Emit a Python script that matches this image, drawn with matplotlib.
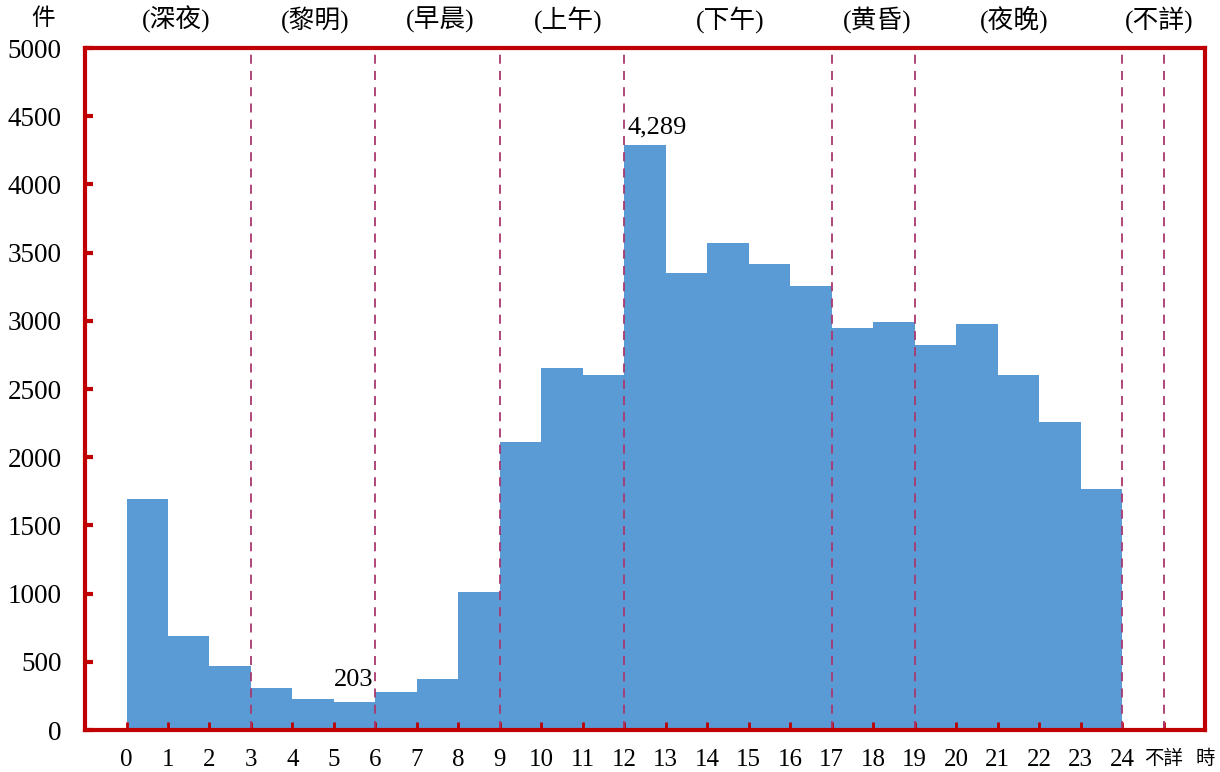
import matplotlib.pyplot as plt

plt.rcParams['font.family'] = ['Liberation Serif', 'Noto Sans CJK TC']

hours = list(range(24))
counts = [1697, 688, 468, 310, 228, 203, 278, 376, 1010, 2113, 2657, 2601,
          4289, 3350, 3571, 3420, 3254, 2950, 2994, 2820, 2978, 2605, 2257, 1764]

tick_pos = list(range(25)) + [25, 26]
tick_labels = [str(i) for i in range(25)] + ['不詳', '時']

period_names = ['(深夜)', '(黎明)', '(早晨)', '(上午)', '(下午)', '(黄昏)', '(夜晚)', '(不詳)']
period_pos = [1.2, 4.55, 7.55, 10.65, 14.55, 18.1, 21.4, 24.9]
bounds = [3, 6, 9, 12, 17, 19, 24, 25]

red = '#C00000'

fig = plt.figure(figsize=(12.2, 7.72), dpi=100)
ax = fig.add_axes([0.0697, 0.0544, 0.918, 0.8834])

ax.bar(hours, counts, width=1.0, align='edge', color='#5B9BD5', zorder=1)

for b in bounds:
    ax.axvline(b, color='#A8386E', linestyle=(0, (5, 4)), linewidth=1.3, zorder=2)

ax.set_xlim(-1, 26)
ax.set_ylim(0, 5000)
ax.set_yticks(range(0, 5001, 500))
ax.set_xticks(tick_pos)
ax.set_xticklabels(tick_labels)

for s in ax.spines.values():
    s.set_color(red)
    s.set_linewidth(3)

ax.tick_params(axis='y', direction='in', length=6, width=3, color=red,
               labelsize=19.5, pad=17)
ax.tick_params(axis='x', direction='in', length=6, width=2, color=red,
               labelsize=18, pad=14)
# no tick mark under the "時" label
ax.xaxis.get_major_ticks()[-1].tick1line.set_visible(False)
for lbl in ax.get_xticklabels()[-2:]:
    lbl.set_fontsize(14)

for name, p in zip(period_names, period_pos):
    ax.text(p, 1.042, name, transform=ax.get_xaxis_transform(),
            ha='center', va='center', fontsize=18.5)
ax.text(-2.0, 1.042, '件', transform=ax.get_xaxis_transform(),
        ha='center', va='center', fontsize=17)

ax.text(12.08, counts[12] + 50, f'{counts[12]:,}', ha='left', va='bottom', fontsize=19)
ax.text(5.47, counts[5] + 80, f'{counts[5]:,}', ha='center', va='bottom', fontsize=19)

fig.savefig('out.png', dpi=100)
